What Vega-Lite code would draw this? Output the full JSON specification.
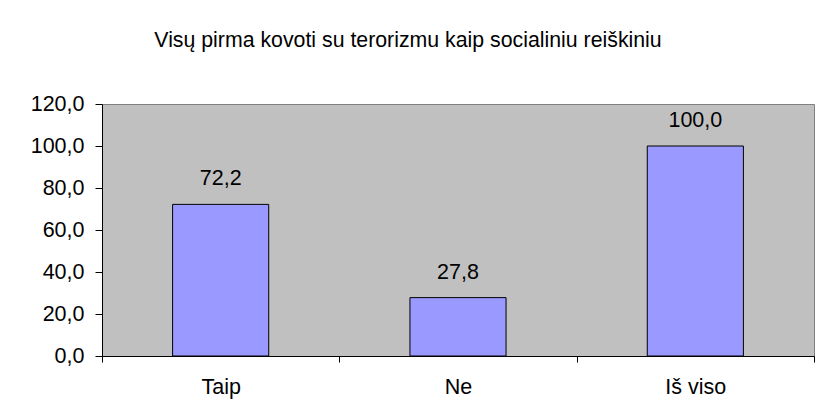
{
  "$schema": "https://vega.github.io/schema/vega-lite/v6.json",
  "width": 712,
  "height": 252,
  "autosize": {"type": "none"},
  "padding": {"left": 102, "top": 104, "right": 4, "bottom": 64},
  "background": "white",
  "title": {
    "text": "Visų pirma kovoti su terorizmu kaip socialiniu reiškiniu",
    "font": "Liberation Sans",
    "fontSize": 21.3,
    "fontWeight": "normal",
    "color": "black",
    "anchor": "middle",
    "frame": "group",
    "baseline": "bottom",
    "offset": 21,
    "dx": -50
  },
  "data": {
    "values": [
      {"cat": "Taip", "v": 72.2},
      {"cat": "Ne", "v": 27.8},
      {"cat": "Iš viso", "v": 100.0}
    ]
  },
  "encoding": {
    "x": {
      "field": "cat", "type": "nominal", "sort": null, "title": null,
      "scale": {"paddingInner": 0, "paddingOuter": 0},
      "axis": {
        "tickBand": "extent", "labelAngle": 0, "labelFont": "Liberation Sans",
        "labelFontSize": 21.5, "labelColor": "black", "labelPadding": 14,
        "tickSize": 6, "tickColor": "black", "domainColor": "black"
      }
    },
    "y": {
      "field": "v", "type": "quantitative", "title": null,
      "scale": {"domain": [0, 120], "nice": false},
      "axis": {
        "values": [0, 20, 40, 60, 80, 100, 120], "format": ".1f", "grid": false,
        "labelFont": "Liberation Sans", "labelFontSize": 21.5, "labelColor": "black",
        "labelPadding": 11, "tickSize": 7, "tickColor": "black", "domainColor": "black"
      }
    }
  },
  "layer": [
    {"mark": {"type": "bar", "width": {"band": 0.405}, "fill": "#9999ff", "stroke": "black", "strokeWidth": 1}},
    {"mark": {"type": "text", "dy": -14, "baseline": "bottom", "font": "Liberation Sans", "fontSize": 21.5, "color": "black"},
     "encoding": {"text": {"field": "v", "type": "quantitative", "format": ".1f"}}}
  ],
  "config": {
    "locale": {"number": {"decimal": ",", "thousands": " ", "grouping": [3], "currency": ["", " €"]}},
    "view": {"fill": "#c0c0c0", "stroke": "#808080", "strokeWidth": 1}
  }
}
